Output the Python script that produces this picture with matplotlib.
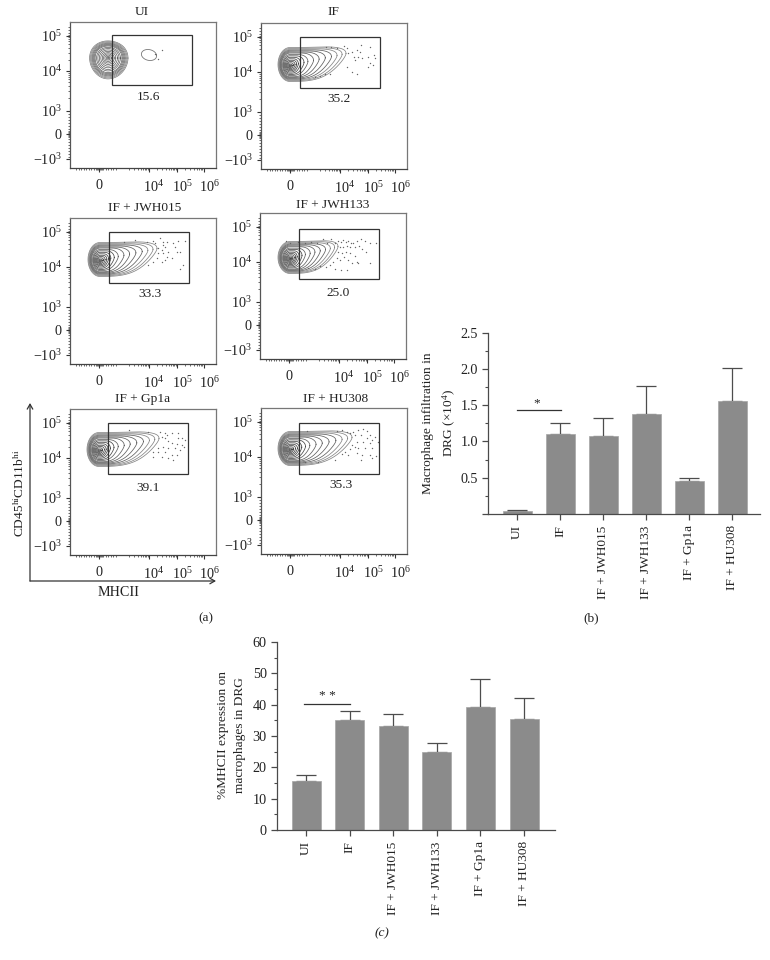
import numpy as np
import matplotlib
matplotlib.use("Agg")
import matplotlib.pyplot as plt
from matplotlib.transforms import ScaledTranslation
from matplotlib.patches import Rectangle

W, H = 770, 960
plt.rcParams['font.family'] = ['Liberation Serif', 'DejaVu Serif']
plt.rcParams['mathtext.fontset'] = 'custom'
plt.rcParams['mathtext.rm'] = 'Liberation Serif'
plt.rcParams['mathtext.it'] = 'Liberation Serif:italic'
plt.rcParams['mathtext.bf'] = 'Liberation Serif:bold'

# ---------- bar data ----------
groups = ['UI', 'IF', 'IF + JWH015', 'IF + JWH133', 'IF + Gp1a', 'IF + HU308']
infiltration = [0.04, 1.10, 1.08, 1.38, 0.46, 1.56]
infiltration_top = [0.05, 1.26, 1.32, 1.77, 0.50, 2.01]
mhcii = [15.6, 35.0, 33.3, 25.0, 39.1, 35.3]
mhcii_top = [17.7, 37.9, 37.0, 27.9, 48.2, 42.0]

# ---------- flow panels ----------
gate_pct = ['15.6', '35.2', '33.3', '25.0', '39.1', '35.3']
panel_origin = [(70, 22), (261, 23), (70, 218), (260, 213), (70, 409), (261, 408)]
gate_box = [(112, 35, 192, 85), (300, 37, 380, 88), (109, 232, 189, 283),
            (299, 229, 379, 279), (108, 423, 188, 474), (299, 423, 379, 474)]
gate_label_xy = [(149, 97), (339, 99), (150, 294), (338, 293), (148, 488), (341, 485)]
title_xy = [(142, 12), (333, 12), (145, 208), (333, 205), (143, 399), (336, 399)]
blob_xy = [(108, 56), (290, 66), (100, 261), (290, 259), (99, 451), (290, 450)]
tail_len = [0, 56, 57, 48, 60, 62]
blob_half_h = [19, 17, 17, 16, 17, 17]

crop_origin = [(65, 15), (255, 15), (65, 210), (255, 210), (65, 405), (255, 405)]
dots_ui = [(290, 106), (280, 132), (270, 118)]
dots_if = [(212, 96), (228, 97), (245, 98), (268, 93), (276, 100), (280, 115), (292, 112), (298, 125),
           (305, 105), (310, 125), (318, 90), (320, 130), (300, 135), (345, 95), (340, 125), (358, 120),
           (345, 145), (355, 150), (340, 155), (290, 170), (305, 178), (275, 155), (180, 185), (195, 182),
           (225, 177), (210, 178), (360, 130), (315, 112)]
dots_jwh015 = [(178, 95), (210, 90), (245, 95), (265, 92), (270, 100), (285, 85), (295, 95), (305, 97),
               (340, 92), (360, 93), (280, 115), (290, 120), (300, 110), (310, 125), (330, 110), (335, 125),
               (280, 130), (295, 130), (305, 140), (290, 155), (300, 150), (320, 145), (345, 125), (355, 165),
               (345, 178), (265, 155), (250, 165), (325, 100), (295, 105), (275, 145)]
dots_jwh133 = [(92, 93), (105, 98), (130, 96), (150, 98), (168, 97), (185, 100), (205, 86), (215, 98), (228, 88),
               (240, 100), (250, 93), (258, 97), (265, 90), (272, 95), (280, 92), (288, 100), (295, 98), (305, 92),
               (318, 88), (330, 92), (345, 98), (362, 100), (255, 110), (265, 112), (275, 108), (285, 112),
               (300, 112), (312, 108), (322, 118), (332, 125), (250, 125), (262, 130), (272, 125), (285, 130),
               (300, 138), (305, 155), (245, 145), (255, 150), (268, 140), (280, 150), (290, 160), (235, 155),
               (225, 165), (212, 172), (195, 168), (180, 178), (160, 175), (240, 178), (258, 180), (275, 180),
               (345, 160), (310, 160)]
dots_gp1a = [(192, 75), (250, 82), (285, 82), (300, 84), (306, 90), (290, 95), (300, 100), (320, 85), (340, 85),
             (350, 100), (360, 105), (338, 100), (308, 108), (320, 115), (335, 118), (350, 120), (295, 125),
             (310, 130), (330, 130), (345, 135), (265, 140), (280, 142), (300, 140), (320, 150), (335, 150),
             (265, 155), (290, 155), (310, 158), (325, 165), (280, 128), (357, 125)]
dots_hu308 = [(155, 78), (245, 78), (260, 76), (275, 80), (285, 85), (295, 80), (310, 75), (325, 72), (335, 78),
              (345, 90), (360, 95), (300, 90), (318, 90), (335, 100), (352, 105), (305, 110), (325, 112), (345, 115),
              (368, 110), (290, 120), (300, 125), (310, 130), (330, 128), (350, 130), (285, 132), (270, 140),
              (262, 148), (280, 150), (305, 145), (320, 150), (345, 150), (362, 152), (350, 160), (318, 165),
              (240, 165), (190, 170), (150, 172)]
panel_dots = [dots_ui, dots_if, dots_jwh015, dots_jwh133, dots_gp1a, dots_hu308]

# ring tail fraction (outer to inner) and left-radius fraction
ring_tail = [1.0, .93, .84, .74, .63, .52, .42, .32, .25, .19, .15, .12, .09, .06, .04, .02]
ring_side = [1.0, .95, .90, .85, .80, .75, .70, .62, .55, .47, .39, .31, .24, .17, .10, .05]

x_major_pos = [29, 79, 107, 134]
x_major_lab = ['0', r'$\mathdefault{10^{4}}$', r'$\mathdefault{10^{5}}$', r'$\mathdefault{10^{6}}$']
y_major_pos = [14, 49, 89, 112, 137]
y_major_lab = [r'$\mathdefault{10^{5}}$', r'$\mathdefault{10^{4}}$', r'$\mathdefault{10^{3}}$', '0',
               '\u2212' + r'$\mathdefault{10^{3}}$']

fig = plt.figure(figsize=(W / 100, H / 100), dpi=100)
DARK = '#4a4a4a'
TXT = '#222222'
FS = 9.6


def ax_px(l, t, r, b):
    return fig.add_axes([l / W, 1 - b / H, (r - l) / W, (b - t) / H])


def ftext(x, y, s, **kw):
    kw.setdefault('ha', 'center')
    kw.setdefault('va', 'center')
    kw.setdefault('fontsize', FS)
    kw.setdefault('color', TXT)
    fig.text(x / W, 1 - y / H, s, **kw)


def ring(ax, cx, cy, left, right, hh, lift, lw, col):
    t = np.linspace(0, 2 * np.pi, 240)
    c, s = np.cos(t), np.sin(t)
    cp = np.clip(c, 0, None)
    x = cx + np.where(c < 0, left * c, right * np.abs(c) ** 0.45)
    y = cy + hh * s * (1 - 0.30 * cp ** 2) * np.where(s > 0, 1 - 0.35 * cp, 1) - lift * cp ** 1.5
    ax.plot(x, y, color=col, lw=lw, solid_joinstyle='round')


for i in range(6):
    ox, oy = panel_origin[i]
    ax = ax_px(ox, oy, ox + 146, oy + 146)
    ax.set_xlim(0, 146)
    ax.set_ylim(146, 0)
    for sp in ax.spines.values():
        sp.set_color('#777777')
        sp.set_linewidth(0.9)
    ax.spines['left'].set_color('#555555')
    ax.spines['bottom'].set_color('#444444')
    ax.set_xticks(x_major_pos, x_major_lab, fontsize=10.2, color=TXT)
    ax.set_yticks(y_major_pos, y_major_lab, fontsize=10.2, color=TXT)
    xm = [79 + 28 * np.log10(k) + 28 * d for d in (-1, 0, 1) for k in range(2, 10)]
    xm += list(np.arange(6, 26, 2.5)) + list(np.arange(26, 33, 1.0)) + list(np.arange(33, 47, 2.5))
    ym = [49 + 38 * np.log10(k) * -1 + 38 * d for d in (0, 1) for k in range(2, 10)]
    ym += list(np.arange(92, 109, 3)) + list(np.arange(109, 116, 1.0)) + list(np.arange(117, 137, 3)) + [8, 11, 5]
    ax.set_xticks([v for v in xm if 0 < v < 146], minor=True)
    ax.set_yticks([v for v in ym if 0 < v < 146], minor=True)
    ax.tick_params(axis='both', which='major', length=3, width=0.8, color='#333333', pad=5)
    ax.tick_params(axis='both', which='minor', length=1.6, width=0.5, color='#333333')
    ax.tick_params(axis='y', which='major', pad=3)
    off = ScaledTranslation(5 / 100, 0, fig.dpi_scale_trans)
    for lab, v in zip(ax.get_xticklabels(), x_major_pos):
        if v != 29:
            lab.set_transform(lab.get_transform() + off)

    bx, by = blob_xy[i]
    cx, cy = bx - ox, by - oy
    if i == 0:
        th = np.linspace(0, 6.29, 120)
        for k, sd in enumerate(ring_side):
            rr = sd * 20
            ax.plot(cx + np.where(np.cos(th) < 0, .92, 1.0) * rr * np.cos(th),
                    cy + 2 + sd * blob_half_h[0] * np.sin(th) * (1 + 0.1 * np.sin(th)),
                    color='#777777' if k < 3 else '#5a5a5a', lw=0.5)
        ax.plot(79 + 7.5 * np.cos(th) + 1.2 * np.sin(th), 33 + 5.5 * np.sin(th), color='#777777', lw=0.6)
    else:
        L = tail_len[i]
        hh = blob_half_h[i]
        for k, (f, sd) in enumerate(zip(ring_tail, ring_side)):
            right = max(L * f, sd * 12)
            lift = 11 * f
            ring(ax, cx, cy - 1.5 * sd, 12 * sd, right, hh * sd, lift,
                 0.55, '#858585' if k < 3 else '#606060' if k < 8 else '#484848')

    gx0, gy0, gx1, gy1 = gate_box[i]
    ax.add_patch(Rectangle((gx0 - ox, gy0 - oy), gx1 - gx0, gy1 - gy0, fill=False,
                           ec='#333333', lw=0.9, zorder=4))
    zx, zy = crop_origin[i]
    pts = np.array(panel_dots[i], float)
    ax.scatter(pts[:, 0] / 3 + zx - ox, pts[:, 1] / 3 + zy - oy, s=1.0, c='#666666', linewidths=0, zorder=3)
    lx, ly = gate_label_xy[i]
    ftext(lx, ly, gate_pct[i])
    tx, ty = title_xy[i]
    ftext(tx, ty, groups[i])


def bars(ax_box, centers0, step, vals, tops, ylim, major, minor, ylab, ylab_xy, sig, star, star_xy):
    l, t, r, b = ax_box
    ax = ax_px(l, t, r, b)
    ax.patch.set_alpha(0)
    ax.set_xlim((l - centers0) / step, (r - centers0) / step)
    ax.set_ylim(0, ylim)
    pos = np.arange(len(groups))
    ax.errorbar(pos, vals, yerr=[np.zeros(len(vals)), np.array(tops) - np.array(vals)], fmt='none',
                ecolor='#4d4d4d', elinewidth=0.9, capsize=7, capthick=0.9, zorder=1)
    ax.bar(pos, vals, width=29 / step, color='#8b8b8b', edgecolor='#a5a5a5', linewidth=0.5, zorder=2)
    for s in ('top', 'right'):
        ax.spines[s].set_visible(False)
    for s in ('left', 'bottom'):
        ax.spines[s].set_color(DARK)
        ax.spines[s].set_linewidth(0.9)
    ax.set_xticks(pos, groups, rotation=90, fontsize=FS, color=TXT)
    ax.set_yticks(major[0], major[1], fontsize=FS + 0.6, color=TXT)
    ax.set_yticks(minor, minor=True)
    ax.tick_params(axis='both', which='major', length=4.3, width=0.9, color=DARK, pad=3)
    ax.tick_params(axis='x', which='major', pad=3.8)
    ax.tick_params(axis='y', which='minor', length=2.4, width=0.8, color=DARK)
    ax.plot(sig[0], sig[1], color='#333333', lw=0.9, clip_on=False, zorder=3)
    ftext(star_xy[0], star_xy[1], star, fontsize=FS)
    ftext(ylab_xy[0], ylab_xy[1], ylab, rotation=90, linespacing=1.55)


bars((488, 332.7, 760, 514), 517, 43, infiltration, infiltration_top, 2.5,
     ([0, .5, 1, 1.5, 2, 2.5], ['', '0.5', '1.0', '1.5', '2.0', '2.5']),
     [.25, .75, 1.25, 1.75, 2.25],
     'Macrophage infiltration in\nDRG (\u00d7' + r'$\mathdefault{10^{4}}$' + ')', (440, 423),
     ([0, 1.02], [1.43, 1.43]), '*', (537, 403))
bars((277, 642, 555, 830), 306, 43.6, mhcii, mhcii_top, 60,
     ([0, 10, 20, 30, 40, 50, 60], ['0', '10', '20', '30', '40', '50', '60']),
     [5, 15, 25, 35, 45, 55],
     '%MHCII expression on\nmacrophages in DRG', (231.5, 735),
     ([-0.05, 1.0], [40.3, 40.3]), '* *', (327, 696))

# (a) axis arrows
arrow_ax = fig.add_axes([0, 0, 1, 1])
arrow_ax.set_xlim(0, W)
arrow_ax.set_ylim(H, 0)
arrow_ax.axis('off')
arrow_ax.patch.set_alpha(0)
ap = dict(arrowstyle='->,head_length=0.35,head_width=0.2', color='#333333', lw=0.9, shrinkA=0, shrinkB=0)
arrow_ax.annotate('', xy=(30, 403), xytext=(30, 581), arrowprops=ap)
arrow_ax.annotate('', xy=(216, 581), xytext=(30, 581), arrowprops=ap)

ftext(118, 592, 'MHCII', fontsize=FS + 0.6)
ftext(20, 493, r'CD45$^{\mathdefault{hi}}$CD11b$^{\mathdefault{hi}}$', rotation=90, fontsize=FS)
ftext(206, 618, '(a)')
ftext(591, 618, '(b)')
ftext(382, 933, '(c)', style='italic')

fig.savefig('out.png', dpi=100)
